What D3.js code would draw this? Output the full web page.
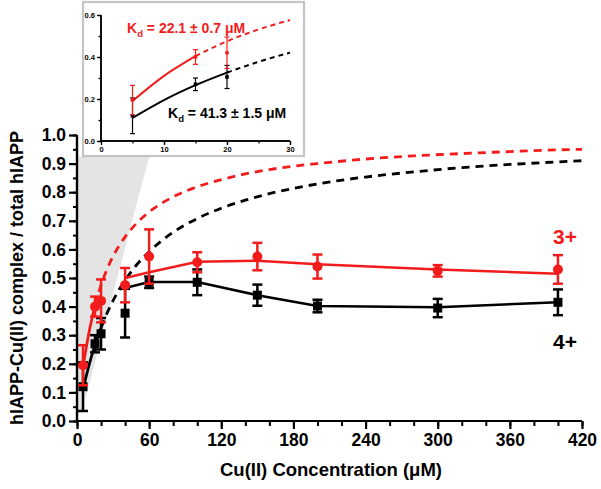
<!DOCTYPE html>
<html><head><meta charset="utf-8">
<script src="https://cdn.jsdelivr.net/npm/d3@7"></script>
<style>body{margin:0;background:#fff;}svg{display:block;font-family:"Liberation Sans",Arial,sans-serif;font-weight:bold;}</style>
</head><body><svg id="c" width="601" height="489"></svg>
<script>
// ---------- data ----------
const conc = [5, 15, 20, 40, 60, 100, 150, 200, 300, 400];
const red3Mean = [0.195, 0.40, 0.42, 0.475, 0.575, 0.555, 0.575, 0.54, 0.525, 0.53];
const red3Err  = [0.07, 0.035, 0.075, 0.06, 0.095, 0.035, 0.048, 0.042, 0.02, 0.05];
const blk4Mean = [0.12, 0.27, 0.305, 0.377, 0.485, 0.485, 0.44, 0.402, 0.395, 0.415];
const blk4Err  = [0.085, 0.03, 0.055, 0.085, 0.02, 0.045, 0.037, 0.022, 0.032, 0.045];
const lineConc = [40, 60, 100, 150, 200, 300, 400];
const red3Line = [0.50, 0.52, 0.557, 0.56, 0.548, 0.53, 0.515];
const blk4Line = [0.465, 0.486, 0.486, 0.44, 0.402, 0.398, 0.415];
// binding curves
const fitConc = [5, 10, 15, 20, 25, 30, 35, 40, 50, 60, 70, 80, 100, 120, 140, 160, 180, 200, 240, 280, 320, 360, 400, 420];
const redFit = [0.19, 0.31, 0.404, 0.475, 0.531, 0.576, 0.613, 0.644, 0.693, 0.731, 0.760, 0.784, 0.819, 0.844, 0.864, 0.879, 0.891, 0.900, 0.916, 0.927, 0.935, 0.942, 0.948, 0.950];
const blkFit = [0.11, 0.195, 0.266, 0.326, 0.377, 0.421, 0.459, 0.492, 0.548, 0.592, 0.629, 0.660, 0.708, 0.744, 0.772, 0.795, 0.813, 0.829, 0.853, 0.871, 0.886, 0.897, 0.906, 0.910];
const redSolidEnd = 15, blkSolidEnd = 20;
const xTicks = [0, 60, 120, 180, 240, 300, 360, 420];
const yTicks = [0, 0.1, 0.2, 0.3, 0.4, 0.5, 0.6, 0.7, 0.8, 0.9, 1.0];
const insetXTicks = [0, 10, 20, 30];
const insetYTicks = [0, 0.2, 0.4, 0.6];
const insetConc = [5, 15, 20];
const labels = {x: "Cu(II) Concentration (\u03bcM)", y: "hIAPP-Cu(II) complex / total hIAPP", red: "3+", blk: "4+",
  kdRed: ["K", "d", " = 22.1 \u00b1 0.7 \u03bcM"], kdBlk: ["K", "d", " = 41.3 \u00b1 1.5 \u03bcM"]};
// zoom-indicator shading (data coords: conc, ratio)
const shade = [[0, 0.925], [60, 0.925], [4, 0.03], [0, 0.03]];

const RED = "#f21c1c", BLK = "#000";
const svg = d3.select("#c");

// ---------- main plot ----------
const x = d3.scaleLinear().domain([0, 420]).range([77, 582]);
const y = d3.scaleLinear().domain([0, 1]).range([421, 135]);

svg.append("path").attr("d", d3.line().x(d => x(d[0])).y(d => y(d[1]))(shade) + "Z")
  .attr("fill", "#e4e4e4");

function series(g, xs, ms, es, color, shape, sc, size, sw, cap) {
  const gx = sc[0], gy = sc[1];
  xs.forEach((c, i) => {
    g.append("line").attr("x1", gx(c)).attr("x2", gx(c)).attr("y1", gy(ms[i] - es[i])).attr("y2", gy(ms[i] + es[i]))
      .attr("stroke", color).attr("stroke-width", sw);
    [ms[i] - es[i], ms[i] + es[i]].forEach(v => g.append("line").attr("x1", gx(c) - cap).attr("x2", gx(c) + cap)
      .attr("y1", gy(v)).attr("y2", gy(v)).attr("stroke", color).attr("stroke-width", sw));
    if (shape === "circle") g.append("circle").attr("cx", gx(c)).attr("cy", gy(ms[i])).attr("r", size).attr("fill", color);
    else g.append("rect").attr("x", gx(c) - size).attr("y", gy(ms[i]) - size).attr("width", 2 * size).attr("height", 2 * size).attr("fill", color);
  });
}
function fitLines(g, sc, fitX, fitY, solidEnd, color, sw, dash, xmax) {
  const ln = d3.line().x(d => sc[0](d[0])).y(d => sc[1](d[1])).curve(d3.curveMonotoneX);
  const pts = fitX.map((c, i) => [c, fitY[i]]).filter(p => p[0] <= xmax);
  g.append("path").attr("d", ln(pts.filter(p => p[0] <= solidEnd))).attr("fill", "none").attr("stroke", color).attr("stroke-width", sw);
  g.append("path").attr("d", ln(pts.filter(p => p[0] >= solidEnd))).attr("fill", "none").attr("stroke", color).attr("stroke-width", sw).attr("stroke-dasharray", dash);
}

const main = svg.append("g");
fitLines(main, [x, y], fitConc, redFit, redSolidEnd, RED, 2.8, "8,6", 420);
fitLines(main, [x, y], fitConc, blkFit, blkSolidEnd, BLK, 2.8, "8,6", 420);
const pl = d3.line().x((d, i) => x(lineConc[i])).y(d => y(d));
main.append("path").attr("d", pl(red3Line)).attr("fill", "none").attr("stroke", RED).attr("stroke-width", 2.5);
main.append("path").attr("d", pl(blk4Line)).attr("fill", "none").attr("stroke", BLK).attr("stroke-width", 2.5);
series(main, conc, blk4Mean, blk4Err, BLK, "rect", [x, y], 4.5, 2.5, 5);
series(main, conc, red3Mean, red3Err, RED, "circle", [x, y], 5, 2.5, 5);

// axes
const xAx = svg.append("g").attr("transform", "translate(0,421)");
xAx.call(d3.axisBottom(x).tickValues(d3.range(0, 421, 20)).tickSize(5).tickFormat(""));
xAx.call(g => g.selectAll(".tick line").attr("stroke-width", 2));
const xAx2 = svg.append("g").attr("transform", "translate(0,421)")
  .call(d3.axisBottom(x).tickValues(xTicks).tickSize(8).tickPadding(5).tickFormat(d3.format("d")));
[xAx, xAx2].forEach(g => { g.select(".domain").attr("stroke-width", 2.2).attr("d", `M${x(0)},0H${x(420)}`); });
xAx2.selectAll(".tick line").attr("stroke-width", 2.2);
xAx2.selectAll("text").attr("font-size", 17.5).attr("font-weight", "bold").attr("font-family", "Liberation Sans, Arial").attr("fill", "#000");

const yAx = svg.append("g").attr("transform", "translate(77,0)");
yAx.call(d3.axisLeft(y).tickValues(d3.range(0, 1.001, 0.05)).tickSize(4).tickFormat(""));
yAx.selectAll(".tick line").attr("stroke-width", 2);
const yAx2 = svg.append("g").attr("transform", "translate(77,0)")
  .call(d3.axisLeft(y).tickValues(yTicks).tickSize(8).tickPadding(3).tickFormat(d3.format(".1f")));
[yAx, yAx2].forEach(g => g.select(".domain").attr("stroke-width", 2.2).attr("d", `M0,${y(0)}V${y(1)}`));
yAx2.selectAll(".tick line").attr("stroke-width", 2.2);
yAx2.selectAll("text").attr("font-size", 17.5).attr("font-weight", "bold").attr("font-family", "Liberation Sans, Arial").attr("fill", "#000");

svg.append("text").attr("x", 331).attr("y", 476).attr("text-anchor", "middle").attr("font-size", 18.5).text(labels.x);
svg.append("text").attr("transform", "translate(23,278) rotate(-90)").attr("text-anchor", "middle").attr("font-size", 18).text(labels.y);
svg.append("text").attr("x", 565).attr("y", 244).attr("text-anchor", "middle").attr("font-size", 21).attr("fill", RED).text(labels.red);
svg.append("text").attr("x", 565).attr("y", 349).attr("text-anchor", "middle").attr("font-size", 21).attr("fill", BLK).text(labels.blk);

// ---------- inset ----------
const inset = svg.append("g");
inset.append("rect").attr("x", 83).attr("y", 2).attr("width", 221).attr("height", 154)
  .attr("fill", "#fff").attr("stroke", "#c4c4c4").attr("stroke-width", 2.2);
const ix = d3.scaleLinear().domain([0, 30]).range([101, 290]);
const iy = d3.scaleLinear().domain([0, 0.6]).range([141, 15]);
fitLines(inset, [ix, iy], fitConc, redFit, redSolidEnd, RED, 2, "5,4", 30);
fitLines(inset, [ix, iy], fitConc, blkFit, blkSolidEnd, BLK, 2, "5,4", 30);
series(inset, insetConc, blk4Mean.slice(0, 3), blk4Err.slice(0, 3), BLK, "rect", [ix, iy], 1.8, 1.2, 2.5);
series(inset, insetConc, red3Mean.slice(0, 3), red3Err.slice(0, 3), RED, "circle", [ix, iy], 2, 1.2, 2.5);

const ixa = inset.append("g").attr("transform", "translate(0,141)");
ixa.call(d3.axisBottom(ix).tickValues(d3.range(0, 31, 5)).tickSize(2.5).tickFormat(""));
const ixa2 = inset.append("g").attr("transform", "translate(0,141)")
  .call(d3.axisBottom(ix).tickValues(insetXTicks).tickSize(4).tickPadding(2).tickFormat(d3.format("d")));
const iya = inset.append("g").attr("transform", "translate(101,0)");
iya.call(d3.axisLeft(iy).tickValues(d3.range(0, 0.61, 0.1)).tickSize(2.5).tickFormat(""));
const iya2 = inset.append("g").attr("transform", "translate(101,0)")
  .call(d3.axisLeft(iy).tickValues(insetYTicks).tickSize(4).tickPadding(2).tickFormat(d3.format(".1f")));
[ixa, ixa2, iya, iya2].forEach(g => { g.select(".domain").attr("stroke-width", 1.5); g.selectAll(".tick line").attr("stroke-width", 1.3); });
ixa2.select(".domain").attr("d", `M${ix(0)},0H${ix(30)}`);
ixa.select(".domain").attr("d", `M${ix(0)},0H${ix(30)}`);
iya2.select(".domain").attr("d", `M0,${iy(0)}V${iy(0.6)}`);
iya.select(".domain").attr("d", `M0,${iy(0)}V${iy(0.6)}`);
[ixa2, iya2].forEach(g => g.selectAll("text").attr("font-size", 7.5).attr("font-weight", "bold").attr("font-family", "Liberation Sans, Arial").attr("fill", "#000"));

function kd(xp, yp, parts, color) {
  const t = inset.append("text").attr("x", xp).attr("y", yp).attr("font-size", 14).attr("fill", color);
  t.append("tspan").text(parts[0]);
  t.append("tspan").attr("dy", 4).attr("font-size", 9.5).text(parts[1]);
  t.append("tspan").attr("dy", -4).text(parts[2]);
}
kd(127, 33, labels.kdRed, RED);
kd(168, 118, labels.kdBlk, BLK);
</script></body></html>
